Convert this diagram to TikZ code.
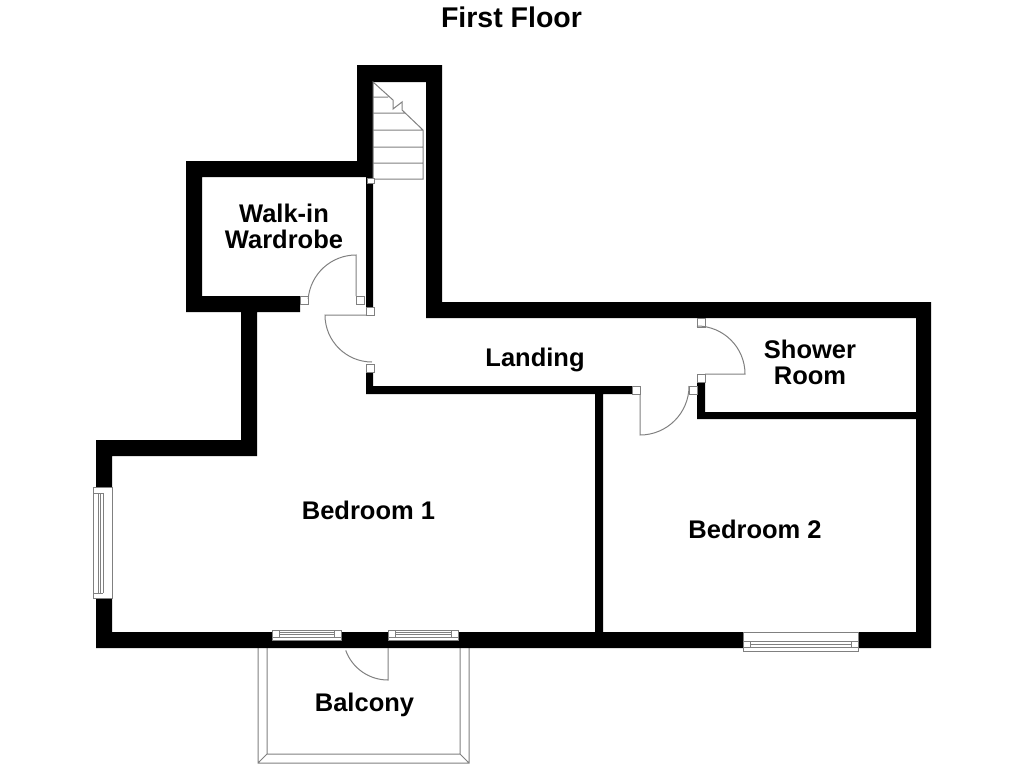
\documentclass[tikz,border=0pt]{standalone}
\usepackage{fontspec}
\setmainfont{Liberation Sans}
\tikzset{
    wall/.style={fill=black},
    thinline/.style={draw=black!50,line width=1pt},
    jamb/.style={draw=black!50,fill=white,line width=.9pt},
    pane/.style={draw=black!50,fill=white,line width=1pt},
    roomname/.style={font=\fontsize{25.5}{26}\selectfont\bfseries,align=center,inner sep=0pt}
}
\begin{document}
\begin{tikzpicture}[x=1pt,y=-1pt]
    \useasboundingbox (0,0) rectangle (1024,768);
    % balcony
    \draw[thinline] (258,648)--(258,763)--(469,763)--(469,648)
        (267,648)--(267,754)--(460,754)--(460,648)
        (258,763)--(267,754)
        (469,763)--(460,754);
    % outer walls
    \fill[wall] (357,65) rectangle (442,82)
        (357,65) rectangle (373,177)
        (426,65) rectangle (442,318)
        (426,302) rectangle (931,318)
        (916,302) rectangle (931,648)
        (96,632) rectangle (931,648)
        (96,440) rectangle (112,648)
        (96,440) rectangle (257,456)
        (241,296) rectangle (257,456)
        (186,296) rectangle (300,312)
        (186,161) rectangle (202,312)
        (186,161) rectangle (373,177);
    % inner walls
    \fill[wall] (366,177) rectangle (373,307)
        (366,372) rectangle (373,394)
        (366,386) rectangle (632,394)
        (595,386) rectangle (603,632)
        (697,382) rectangle (705,419)
        (697,412) rectangle (916,419);
    % stairs
    \draw[thinline] (373,82)--(373,179)--(423,179)--(423,130)--(402,110)--(402,102)
        --(393,109)--(393,100)--cycle
        (373,97)--(388,97)
        (373,113)--(405,113)
        (373,130)--(423,130)
        (373,147)--(423,147)
        (373,163)--(423,163);
    % door jambs
    \filldraw[jamb] (367,178) rectangle (374,183)
        (300,296) rectangle (308,304)
        (356,296) rectangle (364,304)
        (366,307) rectangle (374,315)
        (366,364) rectangle (374,372)
        (632,386) rectangle (640,394)
        (689,386) rectangle (697,394)
        (697,318) rectangle (705,327)
        (697,374) rectangle (705,382);
    % doors
    \draw[thinline] (356,296)--(356,255) arc (-90:-175:48)
        (366,315)--(325,315) arc (180:90:47)
        (705,374)--(745,374) arc (0:-90:48)
        (640,394)--(640,435) arc (90:0:49)
        (388,648)--(388,680) arc (90:160:45);
    % windows
    \filldraw[pane] (93,487) rectangle (112,598)
        (272,630) rectangle (341,640)
        (388,630) rectangle (458,640)
        (743,632) rectangle (858,651);
    \draw[thinline] (93,493)--(103,493)
        (93,593)--(103,593)
        (98,493)--(98,593)
        (100.5,493)--(100.5,593)
        (103,493)--(103,593)
        (272,637)--(341,637)
        (279,630)--(279,637)
        (334,630)--(334,637)
        (279,632)--(334,632)
        (279,634.5)--(334,634.5)
        (388,637)--(458,637)
        (395,630)--(395,637)
        (451,630)--(451,637)
        (395,632)--(451,632)
        (395,634.5)--(451,634.5)
        (743,641)--(858,641)
        (743,647)--(858,647)
        (750,641)--(750,647)
        (851,641)--(851,647)
        (750,644)--(851,644);
    % labels
    \node[inner sep=0pt,font=\fontsize{28.5}{29}\selectfont\bfseries] (title) at (511.5,17) {First Floor};
    \node[roomname] (wardrobe) at (284,226) {Walk-in\\Wardrobe};
    \node[roomname] (landing) at (535,359.5) {Landing};
    \node[roomname] (shower) at (810,362) {Shower\\Room};
    \node[roomname] (bedone) at (368.5,510.5) {Bedroom 1};
    \node[roomname] (bedtwo) at (755,529.5) {Bedroom 2};
    \node[roomname] (balcony) at (364.5,705) {Balcony};
\end{tikzpicture}
\end{document}
